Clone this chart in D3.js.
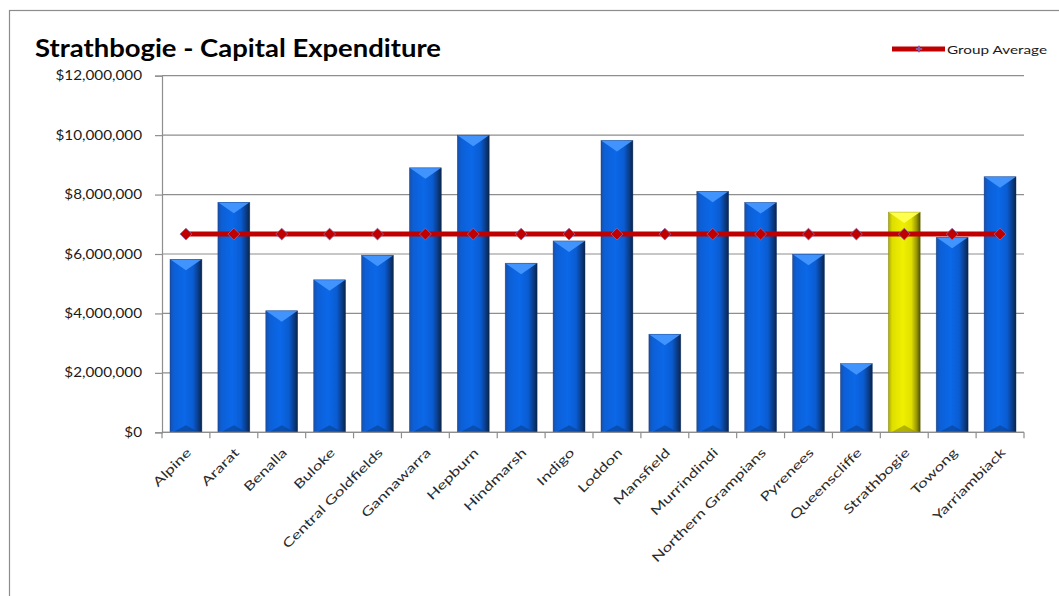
<!DOCTYPE html>
<html>
<head>
<meta charset="utf-8">
<script src="https://cdn.jsdelivr.net/npm/d3@7"></script>
<style>
  html, body { margin: 0; padding: 0; background: #fff; }
  svg { display: block; }
  text { font-family: Lato, "Open Sans", sans-serif; }
</style>
</head>
<body>
<svg id="chart" width="1059" height="596"></svg>
<script>
// Council names along the category axis
const councils = [
  "Alpine", "Ararat", "Benalla", "Buloke", "Central Goldfields", "Gannawarra",
  "Hepburn", "Hindmarsh", "Indigo", "Loddon", "Mansfield", "Murrindindi",
  "Northern Grampians", "Pyrenees", "Queenscliffe", "Strathbogie", "Towong",
  "Yarriambiack"
];
// Capital expenditure per council ($)
const capitalExpenditure = [
  5820000, 7740000, 4090000, 5130000, 5960000, 8900000,
  10000000, 5690000, 6440000, 9820000, 3300000, 8110000,
  7730000, 5990000, 2310000, 7410000, 6560000, 8600000
];
// Group average, repeated for every council
const groupAverage = councils.map(() => 6670000);
// Value axis ticks
const yTicks = [0, 2000000, 4000000, 6000000, 8000000, 10000000, 12000000];
const highlighted = "Strathbogie";

const svg = d3.select("#chart");
const plot = { left: 162, right: 1024, top: 75.7, bottom: 432.3 };

const x = d3.scaleBand().domain(councils).range([plot.left, plot.right]).paddingInner(1 / 3).paddingOuter(1 / 6);
const y = d3.scaleLinear().domain([0, 12000000]).range([plot.bottom, plot.top]);
const fmt = v => "$" + d3.format(",")(v);

// Outer chart frame
svg.append("rect").attr("x", 9.5).attr("y", 10.5).attr("width", 1200).attr("height", 800)
  .attr("fill", "none").attr("stroke", "#8c8c8c").attr("stroke-width", 1.2);

// Gradients for bevelled bars
const defs = svg.append("defs");
function barGradient(id, stops) {
  const g = defs.append("linearGradient").attr("id", id).attr("x1", 0).attr("x2", 1).attr("y1", 0).attr("y2", 0);
  stops.forEach(([o, c]) => g.append("stop").attr("offset", o).attr("stop-color", c));
}
barGradient("blueBody", [[0, "#1a4fa8"], [0.12, "#0c5fd6"], [0.45, "#0b68e8"], [0.72, "#0a5cd2"], [0.88, "#0a3d8a"], [1, "#0a2447"]]);
barGradient("yellowBody", [[0, "#a8a800"], [0.12, "#dede00"], [0.45, "#f0f000"], [0.72, "#e0e000"], [0.88, "#9a9a00"], [1, "#505000"]]);

// Gridlines
svg.append("g").selectAll("line").data(yTicks).join("line")
  .attr("x1", plot.left).attr("x2", plot.right)
  .attr("y1", d => y(d)).attr("y2", d => y(d))
  .attr("stroke", "#8e8e8e").attr("stroke-width", 1.2);

// Value axis
const yAxis = svg.append("g").attr("transform", `translate(${plot.left},0)`)
  .call(d3.axisLeft(y).tickValues(yTicks).tickFormat(fmt).tickSize(7).tickPadding(13));
yAxis.select(".domain").attr("stroke", "#8e8e8e").attr("stroke-width", 1.2);
yAxis.selectAll(".tick line").attr("stroke", "#8e8e8e").attr("stroke-width", 1.2);
yAxis.selectAll("text").attr("fill", "#1a1a1a").style("font-size", "12.5px").attr("font-family", "Lato");

// Bars with bevelled tops and bottoms
const bw = x.bandwidth();
const bars = svg.append("g").selectAll("g").data(councils.map((c, i) => ({ c, v: capitalExpenditure[i] }))).join("g");
bars.append("rect")
  .attr("x", d => x(d.c)).attr("y", d => y(d.v))
  .attr("width", bw).attr("height", d => y(0) - y(d.v))
  .attr("fill", d => d.c === highlighted ? "url(#yellowBody)" : "url(#blueBody)");
const bev = 11;
bars.append("path")
  .attr("d", d => {
    const x0 = x(d.c), x1 = x0 + bw, t = y(d.v);
    return `M${x0},${t}L${x1},${t}L${x1 - 3},${t + 2}L${x0 + bw / 2},${t + bev}L${x0 + 3},${t + 2}Z`;
  })
  .attr("fill", d => d.c === highlighted ? "#ffff50" : "#4596ff").attr("opacity", 0.95);
bars.append("path")
  .attr("d", d => {
    const x0 = x(d.c), x1 = x0 + bw, b = y(0);
    return `M${x0 + 3},${b}L${x0 + bw / 2},${b - 7}L${x1 - 3},${b}Z`;
  })
  .attr("fill", d => d.c === highlighted ? "#8a8a00" : "#0a3f8c").attr("opacity", 0.6);
bars.append("rect")
  .attr("x", d => x(d.c)).attr("y", d => y(d.v))
  .attr("width", bw).attr("height", d => y(0) - y(d.v))
  .attr("fill", "none").attr("stroke", d => d.c === highlighted ? "#7a7a20" : "#0a3070").attr("stroke-width", 0.6).attr("opacity", 0.6);

// Category axis
const xAxis = svg.append("g").attr("transform", `translate(0,${plot.bottom})`);
xAxis.append("line").attr("x1", plot.left).attr("x2", plot.right).attr("stroke", "#8e8e8e").attr("stroke-width", 1.2);
const step = x.step();
xAxis.selectAll(".tk").data(d3.range(councils.length + 1)).join("line").attr("class", "tk")
  .attr("x1", i => plot.left + i * step).attr("x2", i => plot.left + i * step)
  .attr("y1", 0).attr("y2", 6).attr("stroke", "#8e8e8e").attr("stroke-width", 1.2);
xAxis.selectAll(".lbl").data(councils).join("text").attr("class", "lbl")
  .attr("transform", d => `translate(${x(d) + bw / 2 + 3},18) rotate(-45)`)
  .attr("text-anchor", "end").attr("dy", "0.35em")
  .attr("fill", "#2a2a2a").style("font-size", "12.5px")
  .text(d => d);

// Group average line with diamond markers
const cx = c => x(c) + bw / 2;
svg.append("path")
  .datum(councils.map((c, i) => [cx(c), y(groupAverage[i])]))
  .attr("d", d3.line())
  .attr("fill", "none").attr("stroke", "#c00000").attr("stroke-width", 5);
svg.append("g").selectAll("path").data(councils).join("path")
  .attr("transform", (c, i) => `translate(${cx(c)},${y(groupAverage[i])})`)
  .attr("d", d3.symbol(d3.symbolDiamond2, 90))
  .attr("fill", "#c00000").attr("stroke", "#8a6ab0").attr("stroke-width", 0.8);

// Title
const title = svg.append("text").attr("x", 35).attr("y", 57)
  .attr("font-weight", "bold").style("font-size", "24px").attr("fill", "#000")
  .text("Strathbogie - Capital Expenditure");

// Legend
const lg = svg.append("g");
lg.append("line").attr("x1", 892).attr("x2", 945).attr("y1", 49).attr("y2", 49)
  .attr("stroke", "#c00000").attr("stroke-width", 5);
lg.append("path").attr("transform", "translate(919,49)").attr("d", d3.symbol(d3.symbolCross, 22))
  .attr("fill", "#8a5aa0");
const lgText = lg.append("text").attr("x", 947).attr("y", 53.5).style("font-size", "12px").attr("fill", "#1a1a1a").text("Group Average");

// Widen text runs to the rendered typeface's proportions
function widen(sel, k) {
  sel.each(function () {
    const w = this.getComputedTextLength();
    d3.select(this).attr("textLength", w * k).attr("lengthAdjust", "spacingAndGlyphs");
  });
}
widen(yAxis.selectAll("text"), 1.22);
widen(xAxis.selectAll(".lbl"), 1.38);
title.attr("textLength", 406).attr("lengthAdjust", "spacingAndGlyphs");
lgText.attr("textLength", 100).attr("lengthAdjust", "spacingAndGlyphs");
</script>
</body>
</html>
